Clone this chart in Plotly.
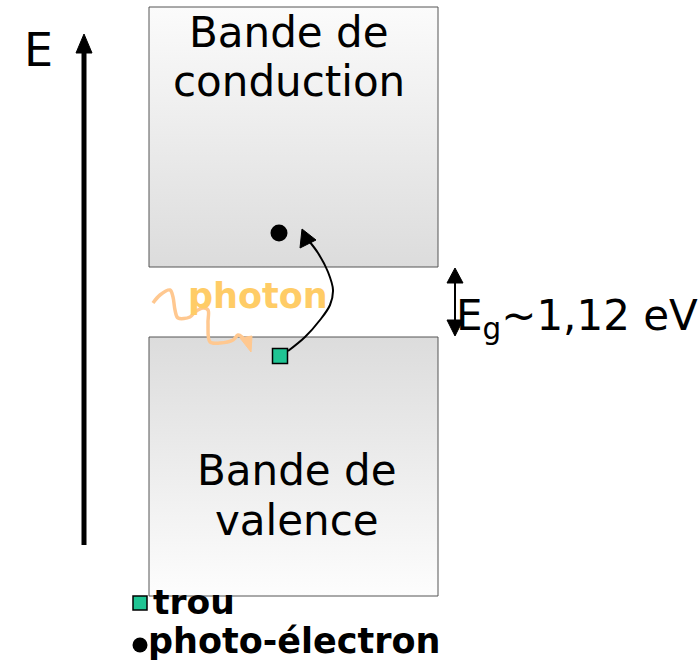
import plotly.graph_objects as go

# ---- diagram data (pixel-like coordinate system: x 0..700, y 0..660 downward) ----
band_x = [149, 438]
cond_band_y = [7, 267]
val_band_y = [337, 596]
cond_label = ["Bande de", "conduction"]
val_label = ["Bande de", "valence"]
cond_label_y = [32, 81]
val_label_y = [470, 520]
cond_label_x = 289
val_label_x = 297

energy_axis_x = [84, 84]
energy_axis_y = [545, 52]
energy_head_x = [76, 92, 84, 76]
energy_head_y = [53, 53, 34, 53]

photon_x = [153, 160, 170, 173, 175, 178, 190, 195, 203, 208, 208, 210, 220, 233, 238, 242, 246]
photon_y = [303, 295, 290, 297, 310, 318, 317, 312, 308, 310, 323, 342, 343, 340, 335, 337, 343]
photon_head_x = [240, 252, 251, 240]
photon_head_y = [338, 336, 352, 338]

jump_x = [288, 305, 320, 330, 333, 328, 318, 309]
jump_y = [351, 337, 320, 305, 290, 272, 253, 241]
jump_head_x = [302, 300, 316, 302]
jump_head_y = [229, 248, 240, 229]

eg_x = 455
eg_y = [270, 335]
eg_top_head_x = [447, 463, 455, 447]
eg_top_head_y = [283, 283, 268, 283]
eg_bot_head_x = [447, 463, 455, 447]
eg_bot_head_y = [320, 320, 336, 320]

electron_xy = (279, 233)
hole_xy = (280, 356)
legend_hole_xy = (140, 603)
legend_electron_xy = (140, 645)

hole_color = "#1fc493"
photon_color = "#ffc890"
photon_text_color = "#ffcc66"
FONT = "DejaVu Sans"

fig = go.Figure()

def poly(xs, ys, color, width=1):
    fig.add_trace(go.Scatter(x=xs, y=ys, mode="lines", fill="toself", fillcolor=color,
                             line=dict(color=color, width=width), hoverinfo="skip",
                             showlegend=False))

# bands with vertical gradient
fig.add_trace(go.Scatter(
    x=[band_x[0], band_x[1], band_x[1], band_x[0], band_x[0]],
    y=[cond_band_y[0], cond_band_y[0], cond_band_y[1], cond_band_y[1], cond_band_y[0]],
    fill="toself", mode="lines", line=dict(color="#555555", width=1),
    fillgradient=dict(type="vertical", colorscale=[[0, "#dcdcdc"], [1, "#fbfbfb"]]),
    hoverinfo="skip", showlegend=False))
fig.add_trace(go.Scatter(
    x=[band_x[0], band_x[1], band_x[1], band_x[0], band_x[0]],
    y=[val_band_y[0], val_band_y[0], val_band_y[1], val_band_y[1], val_band_y[0]],
    fill="toself", mode="lines", line=dict(color="#555555", width=1),
    fillgradient=dict(type="vertical", colorscale=[[0, "#fdfdfd"], [1, "#dcdcdc"]]),
    hoverinfo="skip", showlegend=False))

# energy axis arrow
fig.add_trace(go.Scatter(x=energy_axis_x, y=energy_axis_y, mode="lines",
                         line=dict(color="black", width=5), hoverinfo="skip", showlegend=False))
poly(energy_head_x, energy_head_y, "black")

# photon squiggle
fig.add_trace(go.Scatter(x=photon_x, y=photon_y, mode="lines",
                         line=dict(color=photon_color, width=3.5, shape="spline"),
                         hoverinfo="skip", showlegend=False))
poly(photon_head_x, photon_head_y, photon_color)

# jump arrow
fig.add_trace(go.Scatter(x=jump_x, y=jump_y, mode="lines",
                         line=dict(color="black", width=2, shape="spline"),
                         hoverinfo="skip", showlegend=False))
poly(jump_head_x, jump_head_y, "black")

# Eg double arrow
fig.add_trace(go.Scatter(x=[eg_x, eg_x], y=eg_y, mode="lines",
                         line=dict(color="black", width=2), hoverinfo="skip", showlegend=False))
poly(eg_top_head_x, eg_top_head_y, "black")
poly(eg_bot_head_x, eg_bot_head_y, "black")

# electrons and holes
fig.add_trace(go.Scatter(x=[electron_xy[0], legend_electron_xy[0]],
                         y=[electron_xy[1], legend_electron_xy[1]], mode="markers",
                         marker=dict(symbol="circle", size=[17, 15], color="#000000", opacity=1,
                                     line=dict(width=0)),
                         hoverinfo="skip", showlegend=False))
fig.add_trace(go.Scatter(x=[hole_xy[0], legend_hole_xy[0]], y=[hole_xy[1], legend_hole_xy[1]],
                         mode="markers",
                         marker=dict(symbol="square", size=[15, 14], color=hole_color, opacity=1,
                                     line=dict(color="black", width=1.5)),
                         hoverinfo="skip", showlegend=False))

ann = []
for txt, yy in zip(cond_label, cond_label_y):
    ann.append(dict(x=cond_label_x, y=yy, text=txt, font=dict(size=42, color="black", family=FONT)))
for txt, yy in zip(val_label, val_label_y):
    ann.append(dict(x=val_label_x, y=yy, text=txt, font=dict(size=42, color="black", family=FONT)))
ann.append(dict(x=38, y=50, text="E", font=dict(size=46, color="black", family=FONT)))
ann.append(dict(x=258, y=296, text="<b>photon</b>", font=dict(size=35, color=photon_text_color, family=FONT)))
ann.append(dict(x=454, y=318, text="E<sub>g</sub>~1,12 eV", xanchor="left",
                font=dict(size=42, color="black", family=FONT)))
ann.append(dict(x=151, y=602, text="<b>trou</b>", xanchor="left",
                font=dict(size=34.5, color="black", family=FONT)))
ann.append(dict(x=146, y=641, text="<b>photo-électron</b>", xanchor="left",
                font=dict(size=35, color="black", family=FONT)))
for a in ann:
    a.setdefault("xanchor", "center")
    a.update(xref="x", yref="y", yanchor="middle", showarrow=False)

fig.update_layout(
    width=700, height=660,
    margin=dict(l=0, r=0, t=0, b=0),
    paper_bgcolor="white", plot_bgcolor="white",
    xaxis=dict(range=[0, 700], visible=False, fixedrange=True),
    yaxis=dict(range=[660, 0], visible=False, fixedrange=True),
    annotations=ann,
)

fig.write_html("out.html", config={"displayModeBar": False},
               post_script="document.body.style.margin='0';")
